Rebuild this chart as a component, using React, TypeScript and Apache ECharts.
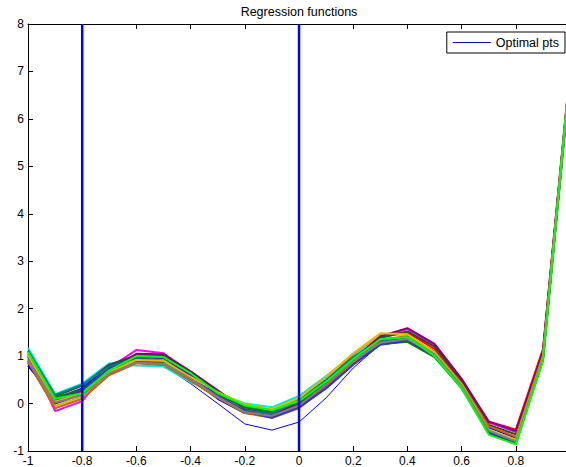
import React, { useEffect, useRef } from "react";
import * as echarts from "echarts";

const xs = [-1, -0.9, -0.8, -0.7, -0.6, -0.5, -0.4, -0.3, -0.2, -0.1, 0, 0.1, 0.2, 0.3, 0.4, 0.5, 0.6, 0.7, 0.8, 0.9, 1];

const optimal = [0.85, -0.1, 0.1, 0.6, 0.85, 0.8, 0.42, 0.0, -0.43, -0.56, -0.39, 0.12, 0.75, 1.25, 1.35, 1.0, 0.35, -0.6, -0.85, 0.95, 6.9];

const fnMagenta = [1.05, -0.16, 0.05, 0.75, 1.13, 1.06, 0.62, 0.15, -0.18, -0.28, -0.05, 0.45, 0.98, 1.4, 1.57, 1.24, 0.5, -0.4, -0.6, 1.1, 7.0];
const fnCyan = [1.17, 0.2, 0.42, 0.85, 0.8, 0.78, 0.45, 0.22, 0.0, -0.08, 0.16, 0.58, 1.02, 1.35, 1.4, 1.05, 0.38, -0.55, -0.78, 0.95, 6.95];
const fnRed = [0.85, 0.05, 0.25, 0.62, 0.88, 0.85, 0.5, 0.12, -0.15, -0.25, -0.02, 0.45, 1.05, 1.45, 1.5, 1.15, 0.45, -0.38, -0.55, 1.15, 7.05];
const fnBlue = [0.8, 0.1, 0.32, 0.8, 1.0, 0.95, 0.55, 0.1, -0.2, -0.25, -0.05, 0.38, 0.9, 1.3, 1.38, 1.08, 0.4, -0.5, -0.72, 1.0, 6.95];
const fnOlive = [0.95, -0.05, 0.15, 0.68, 0.95, 0.92, 0.58, 0.22, -0.1, -0.2, 0.1, 0.55, 1.05, 1.45, 1.45, 1.05, 0.35, -0.62, -0.85, 0.9, 6.9];
const fnDark = [1.1, 0.15, 0.38, 0.82, 1.02, 1.0, 0.65, 0.25, -0.05, -0.15, 0.05, 0.45, 0.95, 1.38, 1.52, 1.2, 0.48, -0.45, -0.65, 1.05, 7.0];
const fnPurple = [1.0, 0.0, 0.2, 0.7, 1.05, 1.04, 0.68, 0.28, -0.12, -0.22, 0.0, 0.4, 0.92, 1.42, 1.59, 1.26, 0.52, -0.38, -0.58, 1.08, 7.0];
const fnDarkGreen = [0.9, 0.12, 0.3, 0.72, 0.9, 0.88, 0.6, 0.18, -0.08, -0.18, 0.02, 0.42, 0.88, 1.25, 1.3, 0.98, 0.32, -0.6, -0.8, 0.92, 6.9];
const fnTeal = [1.12, 0.18, 0.4, 0.78, 0.96, 0.9, 0.52, 0.14, -0.14, -0.22, 0.08, 0.5, 0.98, 1.32, 1.35, 1.02, 0.36, -0.58, -0.82, 0.96, 6.95];
const fnBrown = [0.88, -0.1, 0.1, 0.6, 0.85, 0.82, 0.48, 0.12, -0.2, -0.3, -0.1, 0.35, 0.85, 1.35, 1.42, 1.1, 0.42, -0.48, -0.7, 1.02, 7.0];
const fnNavy = [0.98, 0.08, 0.28, 0.74, 0.98, 0.96, 0.6, 0.16, -0.16, -0.3, -0.08, 0.32, 0.82, 1.24, 1.33, 1.0, 0.34, -0.62, -0.84, 0.94, 6.9];
const fnGold = [1.02, 0.04, 0.22, 0.66, 0.92, 0.9, 0.56, 0.24, -0.02, -0.12, 0.12, 0.56, 1.06, 1.48, 1.46, 1.08, 0.4, -0.55, -0.76, 0.98, 6.95];
const fnGray = [0.92, 0.02, 0.18, 0.64, 0.86, 0.84, 0.52, 0.14, -0.18, -0.26, -0.04, 0.4, 0.9, 1.28, 1.36, 1.04, 0.37, -0.57, -0.8, 0.97, 6.95];
const fnLime = [1.08, 0.1, 0.22, 0.7, 1.0, 0.98, 0.64, 0.22, -0.04, -0.14, 0.06, 0.46, 0.94, 1.36, 1.4, 1.0, 0.32, -0.66, -0.86, 0.92, 7.05];

const curves = [
  { values: fnMagenta, color: "#ff00ff" },
  { values: fnCyan, color: "#00e5e5" },
  { values: fnRed, color: "#ff0000" },
  { values: fnBlue, color: "#0000ff" },
  { values: fnOlive, color: "#bfbf00" },
  { values: fnDark, color: "#404040" },
  { values: fnPurple, color: "#800080" },
  { values: fnDarkGreen, color: "#008000" },
  { values: fnTeal, color: "#008080" },
  { values: fnBrown, color: "#cc6600" },
  { values: fnNavy, color: "#3333cc" },
  { values: fnGold, color: "#e6b800" },
  { values: fnGray, color: "#808080" },
  { values: fnLime, color: "#00ff00" },
];

const optimalXs = [-0.8, 0];
const yRange = [-1, 8];
const xRange = [-1, 0.985];

const FONT = "'Liberation Sans', Arial, Helvetica, sans-serif";

export default function App() {
  const ref = useRef<HTMLDivElement>(null);
  useEffect(() => {
    if (!ref.current) return;
    const chart = echarts.init(ref.current, undefined, { renderer: "svg" });
    const pairs = (vals: number[]) => xs.map((x, i) => [x, vals[i]]);
    const series: any[] = [
      {
        name: "Optimal pts",
        type: "line",
        data: pairs(optimal),
        symbol: "none",
        lineStyle: { color: "#0000ff", width: 1 },
        itemStyle: { color: "#0000ff" },
        z: 2,
      },
      ...curves.map((c, i) => ({
        name: "f" + i,
        type: "line",
        data: pairs(c.values),
        symbol: "none",
        lineStyle: { color: c.color, width: 2 },
        z: 2,
      })),
      ...optimalXs.map((x, i) => ({
        name: "v" + i,
        type: "line",
        data: [[x, yRange[0]], [x, yRange[1]]],
        symbol: "none",
        lineStyle: { color: "#0000ff", width: 2.5 },
        z: 3,
      })),
    ];
    const xCommon = {
      type: "value",
      min: xRange[0],
      max: xRange[1],
      interval: 0.2,
      splitLine: { show: false },
    };
    chart.setOption({
      animation: false,
      backgroundColor: "#ffffff",
      textStyle: { fontFamily: FONT },
      title: {
        text: "Regression functions",
        left: 299,
        top: 5,
        textAlign: "center",
        padding: 0,
        textStyle: { fontSize: 12.5, fontWeight: "normal", color: "#000", fontFamily: FONT },
      },
      legend: {
        data: [{ name: "Optimal pts", icon: "rect" }],
        right: 1,
        top: 32,
        orient: "vertical",
        padding: [4, 6, 4, 6],
        itemWidth: 38,
        itemHeight: 1,
        itemGap: 0,
        borderColor: "#000",
        borderWidth: 1,
        backgroundColor: "#fff",
        textStyle: { fontSize: 12.5, color: "#000", fontFamily: FONT },
      },
      grid: { left: 28, right: 0, top: 24, bottom: 15, containLabel: false },
      xAxis: [
        {
          ...xCommon,
          position: "bottom",
          axisLine: { show: true, onZero: false, lineStyle: { color: "#000", width: 1 } },
          axisTick: { show: true, inside: true, length: 5, lineStyle: { color: "#000" } },
          axisLabel: { fontSize: 12, color: "#000", margin: 4, showMaxLabel: false, fontFamily: FONT },
        },
        {
          ...xCommon,
          position: "top",
          axisLine: { show: true, onZero: false, lineStyle: { color: "#000", width: 1 } },
          axisTick: { show: true, inside: true, length: 5, lineStyle: { color: "#000" } },
          axisLabel: { show: false },
        },
      ],
      yAxis: [
        {
          type: "value",
          min: yRange[0],
          max: yRange[1],
          interval: 1,
          position: "left",
          axisLine: { show: true, onZero: false, lineStyle: { color: "#000", width: 1 } },
          axisTick: { show: true, inside: true, length: 5, lineStyle: { color: "#000" } },
          axisLabel: { fontSize: 12, color: "#000", margin: 4, fontFamily: FONT },
          splitLine: { show: false },
        },
      ],
      series,
    });
    return () => chart.dispose();
  }, []);
  return <div ref={ref} style={{ width: 566, height: 467, position: "absolute", left: 0, top: 0 }} />;
}
